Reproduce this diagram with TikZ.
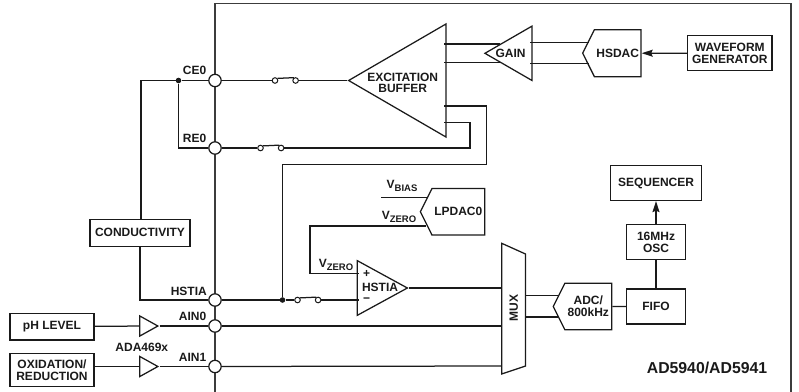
\documentclass[tikz,border=0pt]{standalone}
\usepackage{fontspec}
\setmainfont{Liberation Sans}
\usetikzlibrary{
  arrows.meta,
  shapes.geometric,
  shapes.symbols,
  positioning
}
\definecolor{adInk}{HTML}{1A1A1A}
\newcommand{\vsub}[1]{V\raisebox{-2.6pt}{\fontsize{9.5}{9.5}\selectfont #1}}
\tikzset{
  lbl/.style={font=\bfseries\fontsize{12}{11.7}\selectfont, text=adInk, align=center, inner sep=0pt},
  wire/.style={line width=1.25pt, draw=adInk},
  sig/.style={wire, -{Stealth[length=11pt,width=7pt,inset=1.5pt]}},
  chipline/.style={line width=1.6pt, draw=adInk!85!white},
  blockbox/.style={lbl, wire, fill=white, rectangle, minimum width=#1},
  pin/.style={wire, circle, fill=white, minimum size=12.4pt, inner sep=0pt},
  contact/.style={line width=1pt, draw=adInk, circle, fill=white, minimum size=5.6pt, inner sep=0pt},
  dot/.style={circle, fill=adInk, minimum size=5.6pt, inner sep=0pt},
  amp/.style={wire, isosceles triangle, isosceles triangle stretches, shape border rotate=#1, inner sep=0pt, anchor=apex},
  conv/.style={lbl, wire, signal, signal to=west, signal from=nowhere, anchor=east, fill=white},
  sign/.style={lbl, text height=2pt, text depth=0pt}
}
\begin{document}
\begin{tikzpicture}[x=1pt, y=-1pt]
  \useasboundingbox (0,0) rectangle (799,391);
  % chip outline
  \coordinate (chipbl) at (215,393);
  \coordinate (chiptl) at (215,3.5);
  \coordinate (chiptr) at (790.7,3.5);
  \coordinate (chipbr) at (790.7,393);
  \draw[chipline] (chipbl) -- (chiptl) -- (chiptr) -- (chipbr);

  % pins
  \node[pin] (ce0) at (215,80.5) {};
  \node[pin] (re0) at (215,148) {};
  \node[pin] (hstia) at (215,300) {};
  \node[pin] (ain0) at (215,326) {};
  \node[pin] (ain1) at (215,366.5) {};
  \node[lbl, anchor=east] (ce0l) at (206.5,70.7) {CE0};
  \node[lbl, anchor=east] (re0l) at (206.5,138) {RE0};
  \node[lbl, anchor=east] (hstial) at (207,291) {HSTIA};
  \node[lbl, anchor=east] (ain0l) at (206.5,316.7) {AIN0};
  \node[lbl, anchor=east] (ain1l) at (206.5,357.3) {AIN1};

  % amplifiers
  \node[amp=180, minimum width=113pt, minimum height=97.3pt] (buf) at (347,80.5) {};
  \node[lbl] (bufl) at (402.7,83) {EXCITATION\\BUFFER};
  \node[amp=180, minimum width=54.3pt, minimum height=47pt] (gain) at (483.3,53.3) {};
  \node[lbl] (gainl) at (510.5,53.3) {GAIN};
  \node[amp=0, minimum width=54.6pt, minimum height=50pt] (tia) at (409,288) {};
  \node[lbl] (tial) at (380,287.7) {HSTIA};
  \node[sign] (tiap) at (366.7,276.3) {+};
  \node[sign] (tian) at (366.5,301.6) {\textminus};
  \node[amp=0, minimum width=20pt, minimum height=18pt] (ph) at (159.5,326) {};
  \node[amp=0, minimum width=20pt, minimum height=18pt] (ox) at (159.5,366.5) {};

  % converters
  \node[conv, minimum width=58.4pt, minimum height=47pt, signal pointer angle=127] (hsdac) at (641.7,53.2) {HSDAC};
  \node[conv, minimum width=58.4pt, minimum height=46.7pt, signal pointer angle=127] (adc) at (612.3,306.5) {ADC/\\800kHz};
  \node[conv, minimum width=64.3pt, minimum height=46.5pt, signal pointer angle=127] (lpdac) at (485.3,211.8) {LPDAC0};

  % blocks
  \node[blockbox=84.3pt, minimum height=35pt] (wave) at (729.8,53.2) {WAVEFORM\\GENERATOR};
  \node[blockbox=58.6pt, minimum height=35pt] (fifo) at (656,306.5) {FIFO};
  \node[blockbox=58.6pt, minimum height=35pt, above=28pt of fifo] (osc) {16MHz\\OSC};
  \node[blockbox=90.6pt, minimum height=35pt, above=23pt of osc] (seq) {SEQUENCER};
  \node[blockbox=100pt, minimum height=27pt] (cond) at (140,232.7) {CONDUCTIVITY};
  \node[blockbox=84pt, minimum height=26.7pt] (phbox) at (52,326.6) {pH LEVEL};
  \node[blockbox=84pt, minimum height=32.7pt] (oxbox) at (52,370) {OXIDATION/\\REDUCTION};
  \node[lbl] (ada) at (141.8,347.7) {ADA469x};
  \node[lbl] (ad) at (707,368.3) {\fontsize{15.8}{16}\selectfont AD5940/AD5941};

  % mux
  \coordinate (muxa) at (501.7,243.3);
  \coordinate (muxb) at (525.5,254);
  \coordinate (muxc) at (525.5,366);
  \coordinate (muxd) at (501.7,374);
  \draw[wire] (muxa) -- (muxb) -- (muxc) -- (muxd) -- cycle;
  \node[lbl, rotate=90] (muxl) at (513.7,308.3) {MUX};

  % switches
  \node[contact] (swa) at (275,80.5) {};
  \node[contact, right=14pt of swa] (swb) {};
  \node[contact] (swc) at (260.5,148) {};
  \node[contact, right=14pt of swc] (swd) {};
  \node[contact] (swe) at (297.5,300) {};
  \node[contact, right=14pt of swe] (swf) {};
  \foreach \a/\b in {swa/swb,swc/swd,swe/swf}
    \draw[wire] (\a.40) -- (\b.120);

  % junctions and wire corners
  \node[dot] (jce) at (178.5,80.5) {};
  \node[dot] (jhs) at (282.5,300) {};
  \coordinate (condtop) at (141,80.5);
  \coordinate (condbot) at (140,300);
  \coordinate (rebend) at (178.5,148);
  \coordinate (reright) at (470,148);
  \coordinate (reup) at (470,122.5);
  \coordinate (reend) at (444.3,122.5);
  \coordinate (fbstart) at (444.3,106);
  \coordinate (fbright) at (486.5,106);
  \coordinate (fbdown) at (486.5,164.5);
  \coordinate (fbleft) at (282.5,164.5);

  \draw[wire] (jce) -- (condtop) -- (cond.north -| condtop);
  \draw[wire] (cond.south -| condbot) -- (condbot) -- (hstia);
  \draw[wire] (ce0) -- (jce) -- (rebend) -- (re0);
  \draw[wire] (ce0) -- (swa);
  \draw[wire] (swb) -- (buf.apex);
  \draw[wire] (re0) -- (swc);
  \draw[wire] (swd) -- (reright) -- (reup) -- (reend);
  \draw[wire] (fbstart) -- (fbright) -- (fbdown) -- (fbleft) -- (jhs);
  \draw[wire] (hstia) -- (jhs) -- (swe);
  \coordinate (tiain) at (359,300);
  \draw[wire] (swf) -- (tiain);

  % buffer to gain, gain to dac
  \coordinate (bufa) at (444.3,44);
  \coordinate (bufb) at (444.3,62.7);
  \coordinate (gaina) at (499.5,44);
  \coordinate (gainb) at (499.5,62.7);
  \coordinate (gainc) at (530.3,42.7);
  \coordinate (gaind) at (530.3,63.5);
  \coordinate (daca) at (588.5,42.7);
  \coordinate (dacb) at (588.5,63.5);
  \draw[wire] (bufa) -- (gaina);
  \draw[wire] (bufb) -- (gainb);
  \draw[wire] (gainc) -- (daca);
  \draw[wire] (gaind) -- (dacb);
  \draw[sig] (wave) -- (hsdac);

  % lpdac
  \coordinate (biasl) at (381,197.3);
  \coordinate (biasr) at (428,197.3);
  \coordinate (zeror) at (426,226);
  \coordinate (zerol) at (310,226);
  \coordinate (zerod) at (310,273.7);
  \coordinate (tiaplus) at (359,273.7);
  \draw[wire] (biasl) -- (biasr);
  \draw[wire] (zeror) -- (zerol) -- (zerod) -- (tiaplus);
  \node[lbl] (vbias) at (402,186) {\vsub{BIAS}};
  \node[lbl] (vzeroa) at (399,217) {\vsub{ZERO}};
  \node[lbl] (vzerob) at (336,265) {\vsub{ZERO}};

  % analog inputs
  \coordinate (muxin) at (501.7,288);
  \draw[wire] (tia.apex) -- (muxin);
  \coordinate (muxaa) at (501.7,326);
  \coordinate (muxbb) at (501.7,366);
  \draw[wire] (ain0) -- (muxaa);
  \draw[wire] (ain1) -- (muxbb);
  \draw[wire] (phbox) -- (ph);
  \draw[wire] (ph.apex) -- (ain0);
  \draw[wire] (oxbox.east |- ox) -- (ox);
  \draw[wire] (ox.apex) -- (ain1);

  % mux to adc, fifo, osc, sequencer
  \coordinate (muxe) at (525.5,295.7);
  \coordinate (muxf) at (525.5,317);
  \coordinate (adca) at (559,295.7);
  \coordinate (adcb) at (559,317);
  \draw[wire] (muxe) -- (adca);
  \draw[wire] (muxf) -- (adcb);
  \draw[wire] (adc) -- (fifo);
  \draw[wire] (fifo) -- (osc);
  \draw[sig] (osc) -- (seq);
\end{tikzpicture}
\end{document}
